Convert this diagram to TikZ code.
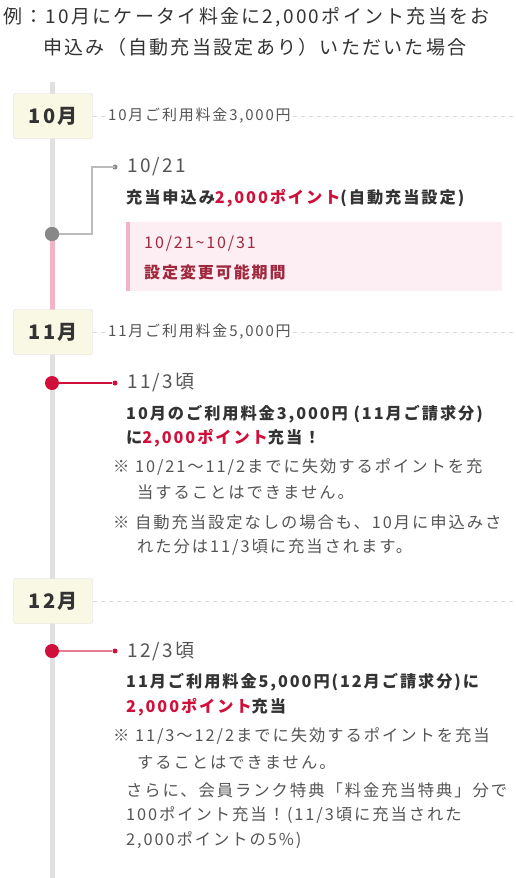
\documentclass[tikz,border=0pt]{standalone}
\usepackage{fontspec}
\setmainfont{Noto Sans CJK JP}[LetterSpace=12]
\definecolor{txt}{HTML}{333333}
\definecolor{gtxt}{HTML}{555555}
\definecolor{red}{HTML}{D0103A}
\definecolor{tl}{HTML}{E0E0E0}
\definecolor{tlpink}{HTML}{F2B4C4}
\definecolor{mfill}{HTML}{F8F8E4}
\definecolor{mdraw}{HTML}{DCDCDC}
\definecolor{pinkbg}{HTML}{FCEEF2}
\definecolor{pinkbar}{HTML}{F2B4C4}
\definecolor{darkred}{HTML}{A0283F}
\definecolor{dotgray}{HTML}{888888}
\definecolor{conngray}{HTML}{BBBBBB}
\definecolor{dash}{HTML}{D8D8D8}
\newcommand{\fs}[1]{\fontsize{#1}{#1}\selectfont}
\begin{document}
\begin{tikzpicture}[x=1pt,y=-1pt,
  month/.style={draw=mdraw,fill=mfill,minimum width=79pt,minimum height=45pt,rounded corners=2pt,inner sep=0pt,font=\fs{20}\bfseries,text=txt},
  mlabel/.style={anchor=west,fill=white,inner sep=2pt,font=\fs{15},text=gtxt},
  dashline/.style={draw=dash,line width=1pt,dash pattern=on 4pt off 4pt},
  bigdot/.style={circle,inner sep=0pt,minimum size=14pt},
  smalldot/.style={circle,inner sep=0pt,minimum size=5pt},
  tline/.style={anchor=west,inner sep=0pt,text=txt},
  datetxt/.style={tline,font=\fs{19},text=gtxt},
  boldtxt/.style={tline,font=\fs{16.2}\bfseries},
  notetxt/.style={tline,font=\fs{16.3},text=gtxt},
  titletxt/.style={tline,font=\fs{19}},
]
\useasboundingbox (0,0) rectangle (515,878);
\fill[white] (0,0) rectangle (515,878);

% title
\node[titletxt] (t1) at (3,17) {例：10月にケータイ料金に2,000ポイント充当をお};
\node[titletxt] (t2) at (43,47) {申込み（自動充当設定あり）いただいた場合};

% timeline
\draw[tl,line width=5pt] (52,82) -- (52,878);
\draw[tlpink,line width=5pt] (52,234) -- (52,310);

% months
\coordinate (e10) at (515,116);
\coordinate (e11) at (515,332);
\coordinate (e12) at (515,601);
\node[month] (m10) at (53,116) {10月};
\node[month] (m11) at (53,332) {11月};
\node[month] (m12) at (53,601) {12月};
\draw[dashline] (m10.east) -- (e10);
\draw[dashline] (m11.east) -- (e11);
\draw[dashline] (m12.east) -- (e12);
\node[mlabel] (l10) at (106,116) {10月ご利用料金3,000円};
\node[mlabel] (l11) at (106,332) {11月ご利用料金5,000円};

% 10/21
\node[bigdot,fill=dotgray] (d1) at (52,234) {};
\node[smalldot,fill=dotgray] (s1) at (115,167) {};
\draw[conngray,line width=1.2pt] (d1.center) -- (92,234) |- (s1.center);
\node[bigdot,fill=dotgray] at (52,234) {};
\node[datetxt] (a1) at (127,167) {10/21};
\node[boldtxt] (a2) at (126,198) {充当申込み\textcolor{red}{2,000ポイント}(自動充当設定)};
\fill[pinkbg] (126,222) rectangle (502,291);
\fill[pinkbar] (126,222) rectangle (130,291);
\node[tline,font=\fs{16},text=darkred] (p1) at (144,244) {10/21\char"007E 10/31};
\node[tline,font=\fs{16}\bfseries,text=darkred] (p2) at (144,272) {設定変更可能期間};

% 11/3
\node[bigdot,fill=red] (d2) at (52,383) {};
\node[smalldot,fill=red] (s2) at (115,383) {};
\draw[red,line width=1.2pt] (d2) -- (s2);
\node[datetxt] (b1) at (127,383) {11/3頃};
\node[boldtxt] (b2) at (126,414) {10月のご利用料金3,000円 (11月ご請求分)};
\node[boldtxt] (b3) at (126,438) {に\textcolor{red}{2,000ポイント}充当！};
\node[notetxt] (b4) at (113,467) {※ 10/21〜11/2までに失効するポイントを充};
\node[notetxt] (b5) at (137,492) {当することはできません。};
\node[notetxt] (b6) at (113,522) {※ 自動充当設定なしの場合も、10月に申込みさ};
\node[notetxt] (b7) at (137,547) {れた分は11/3頃に充当されます。};

% 12/3
\node[bigdot,fill=red] (d3) at (52,651) {};
\node[smalldot,fill=red] (s3) at (115,651) {};
\draw[red!55,line width=1.2pt] (d3) -- (s3);
\node[datetxt] (c1) at (127,651) {12/3頃};
\node[boldtxt] (c2) at (126,682) {11月ご利用料金5,000円(12月ご請求分)に};
\node[boldtxt] (c3) at (126,707) {\textcolor{red}{2,000ポイント}充当};
\node[notetxt] (c4) at (113,736) {※ 11/3〜12/2までに失効するポイントを充当};
\node[notetxt] (c5) at (137,762) {することはできません。};
\node[notetxt] (c6) at (126,790) {さらに、会員ランク特典「料金充当特典」分で};
\node[notetxt] (c7) at (126,815) {100ポイント充当！(11/3頃に充当された};
\node[notetxt] (c8) at (126,840) {2,000ポイントの5\%)};
\end{tikzpicture}
\end{document}
